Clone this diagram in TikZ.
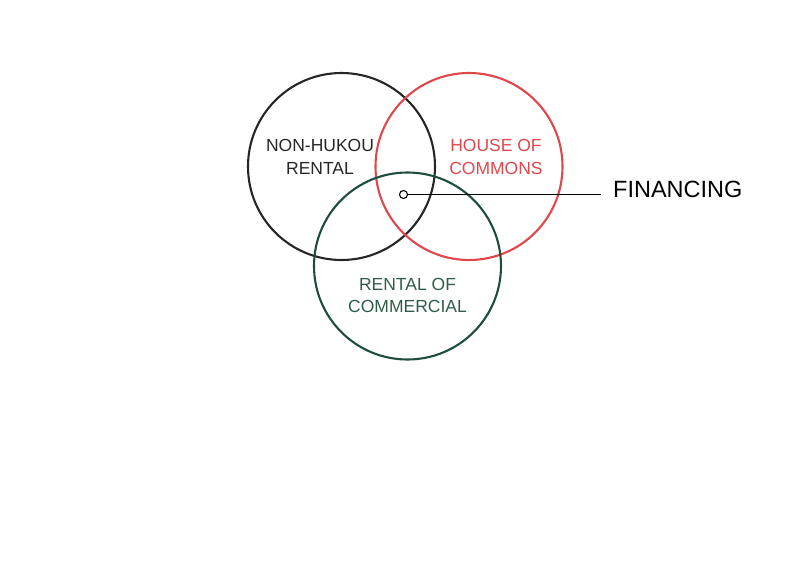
\documentclass[tikz,border=0pt]{standalone}
\usepackage{fontspec}
\setmainfont{Liberation Sans}
\usepackage{xcolor}
\usetikzlibrary{positioning}

\definecolor{ringdark}{HTML}{262626}
\definecolor{ringred}{HTML}{E0474C}
\definecolor{ringgreen}{HTML}{1E4D3B}
\definecolor{textgreen}{HTML}{2F5E48}

\begin{document}
\begin{tikzpicture}[x=1pt, y=-1pt,
    ring/.style={draw, circle, line width=2.1pt, minimum size=187pt, inner sep=0pt},
    lbl/.style={align=center, inner sep=0pt, anchor=base, font=\fontsize{17.5}{22.3}\selectfont}]
    \useasboundingbox (0,0) rectangle (804,568);

    % Circles
    \node[ring, ringdark] (hukou) at (341.5,166.5) {};
    \node[ring, ringred] (commons) at (469,166.5) {};
    \node[ring, ringgreen] (commercial) at (407.5,266) {};

    % Labels (base = last line)
    \node[lbl, text=ringdark] (hukoutxt) at (320,174) {NON-HUKOU\\RENTAL};
    \node[lbl, text=ringred] (commonstxt) at (496,174) {HOUSE OF\\COMMONS};
    \node[lbl, text=textgreen] (commercialtxt) at (407.5,312.3) {RENTAL OF\\COMMERCIAL};

    % Financing marker
    \node[draw, circle, line width=1.1pt, minimum size=8pt, inner sep=0pt, fill=white] (dot) at (403.5,194.5) {};
    \node[inner sep=0pt, anchor=base west, font=\fontsize{23.5}{28}\selectfont] (fin) at (613,197.3) {FINANCING};
    \draw[line width=1.1pt] (dot.east) -- ([xshift=-12pt]dot.east -| fin.west);
\end{tikzpicture}
\end{document}
